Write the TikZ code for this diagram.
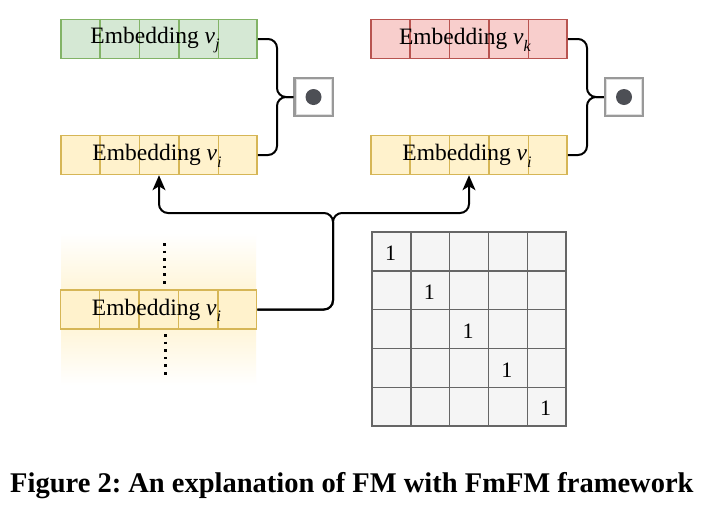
\documentclass[tikz,border=0pt]{standalone}
\usepackage{fontspec}
\setmainfont{Liberation Serif}
\usetikzlibrary{calc,arrows.meta}
\definecolor{gfill}{HTML}{D5E8D4}\definecolor{gline}{HTML}{82B366}
\definecolor{yfill}{HTML}{FFF2CC}\definecolor{yline}{HTML}{D6B656}
\definecolor{rfill}{HTML}{F8CECC}\definecolor{rline}{HTML}{B85450}
\definecolor{mfill}{HTML}{F5F5F5}\definecolor{mline}{HTML}{666666}
\definecolor{dotc}{HTML}{4D4F55}
\newcommand{\embtxt}[1]{\fontsize{23.5}{28}\selectfont Embedding \textit{v}\raisebox{-0.28em}{\fontsize{16}{17}\selectfont\textit{#1}}}
\tikzset{
  embbox/.style={draw, line width=1.5pt, minimum width=196pt, minimum height=39pt, inner sep=0pt},
  conn/.style={line width=2pt, black, rounded corners=9pt},
  tip/.style={-{Stealth[length=15pt,width=13pt,inset=4pt]}},
  dotbox/.style={draw=gray!80, line width=2.2pt, fill=white, minimum size=38pt, inner sep=0pt},
  dotinner/.style={draw=gray!25, line width=1pt, minimum size=35pt, inner sep=0pt},
  dotdisc/.style={circle, fill=dotc, minimum size=16pt, inner sep=0pt},
  cell/.style={draw=mline, fill=mfill, line width=1.5pt, minimum size=38.8pt, inner sep=0pt},
  one/.style={font=\fontsize{22}{24}\selectfont, inner sep=0pt},
  dotline/.style={line width=2.6pt, dash pattern=on 2.6pt off 5pt}
}
\newcommand{\cells}[2]{%
  \foreach \k in {1,...,4}{\draw[#2, line width=1.5pt] ($(#1.north west)!\k/5!(#1.north east)$) -- ($(#1.south west)!\k/5!(#1.south east)$);}}
\begin{document}
\begin{tikzpicture}[x=1pt,y=-1pt]
\useasboundingbox (0,0) rectangle (712,504);
\fill[white] (0,0) rectangle (712,504);
% gradient background
\shade[top color=white, bottom color=yfill] (61,233) rectangle (256,309.5);
\shade[top color=yfill, bottom color=white] (61,309.5) rectangle (256,385);
% top-left pair
\node[embbox, draw=gline, fill=gfill] (g1) at (159,39) {};
\cells{g1}{gline}
\node (tg1) at ($(g1.center)+(-4,1)$) {\embtxt{j}};
\node[embbox, draw=yline, fill=yfill] (y1) at (159,155) {};
\cells{y1}{yline}
\node (ty1) at ($(y1.center)+(-2,1)$) {\embtxt{i}};
% top-right pair
\node[embbox, draw=rline, fill=rfill] (r2) at (469,39) {};
\cells{r2}{rline}
\node (tr2) at ($(r2.center)+(-4,1)$) {\embtxt{k}};
\node[embbox, draw=yline, fill=yfill] (y2) at (469,155) {};
\cells{y2}{yline}
\node (ty2) at ($(y2.center)+(-2,1)$) {\embtxt{i}};
% bottom
\node[embbox, draw=yline, fill=yfill] (yb) at (158.5,309.5) {};
\cells{yb}{yline}
\node (tyb) at ($(yb.center)+(-2,1)$) {\embtxt{i}};
\coordinate (dt1) at (164.5,243);
\coordinate (dt2) at (164.5,285);
\coordinate (db1) at (165.5,334);
\coordinate (db2) at (165.5,376);
\draw[dotline] (dt1) -- (dt2);
\draw[dotline] (db1) -- (db2);
% dot boxes
\node[dotbox] (d1) at (313.5,97) {};
\node[dotinner] (i1) at (d1.center) {};
\node[dotdisc] (c1) at (d1.center) {};
\node[dotbox] (d2) at (624,97) {};
\node[dotinner] (i2) at (d2.center) {};
\node[dotdisc] (c2) at (d2.center) {};
% braces
\coordinate (bl) at (277,97);
\coordinate (br) at (587,97);
\draw[conn] (g1.east) -- (g1.east -| bl) -- (bl) -- (d1.west);
\draw[conn] (y1.east) -- (y1.east -| bl) -- (bl) -- (d1.west);
\draw[conn] (r2.east) -- (r2.east -| br) -- (br) -- (d2.west);
\draw[conn] (y2.east) -- (y2.east -| br) -- (br) -- (d2.west);
% arrows
\coordinate (j) at (333,213);
\draw[conn, tip] (yb.east) -- (yb.east -| j) -- (j) -- (j -| y1.south) -- (y1.south);
\draw[conn, tip] (yb.east) -- (yb.east -| j) -- (j) -- (j -| y2.south) -- (y2.south);
% matrix
\foreach \r in {0,...,4}{
  \foreach \c in {0,...,4}{
    \node[cell] (m\r\c) at (391.5+38.8*\c, 251.5+38.8*\r) {};
  }
}
\foreach \i in {0,...,4}{
  \node[one] (o\i) at ($(m\i\i.center)+(-1,2)$) {1};
}
% caption
\node[anchor=base west, inner sep=0pt, font=\fontsize{28.5}{32}\selectfont\bfseries\frenchspacing] (cap) at (10,492) {Figure 2: An explanation of FM with FmFM framework};
\end{tikzpicture}
\end{document}
